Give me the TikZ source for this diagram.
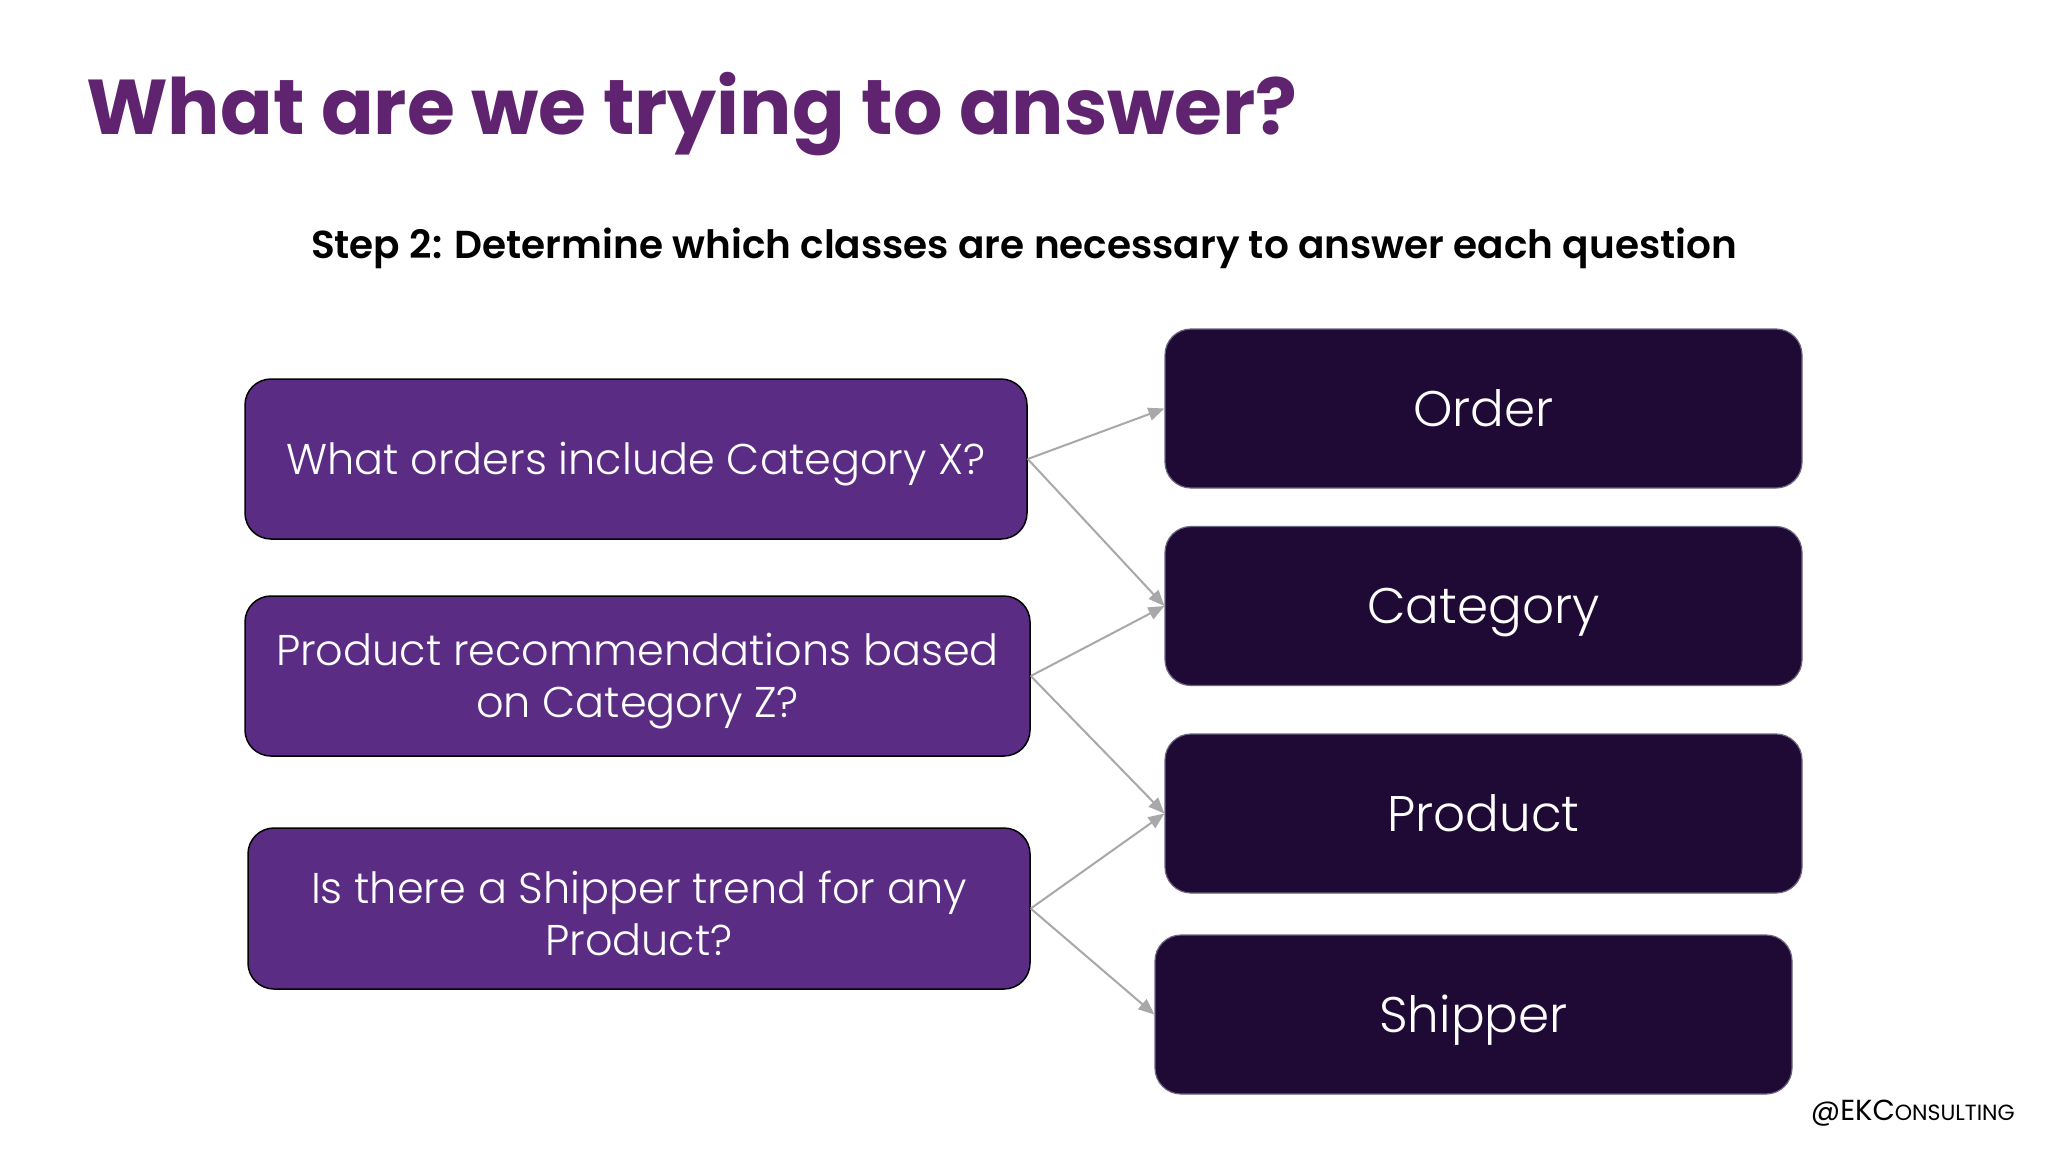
\documentclass[tikz,border=0pt]{standalone}
\usepackage{fontspec}
\setmainfont{Poppins}
\newfontfamily\lightfont{Poppins Light}
\newfontfamily\semifont{Poppins SemiBold}
\usetikzlibrary{arrows.meta}
\definecolor{titlepurple}{HTML}{5F2370}
\definecolor{qfill}{HTML}{5A2C83}
\definecolor{cfill}{HTML}{1E0A34}
\definecolor{cborder}{HTML}{6C6480}
\definecolor{arrowgray}{HTML}{A8A8A8}
\tikzset{
  qbox/.style={draw=black, line width=1.5pt, fill=qfill, rounded corners=26pt, inner sep=0pt},
  qtext/.style={text=white, align=center, inner sep=0pt, yshift=-5pt,
    font=\lightfont\fontsize{43}{52}\selectfont},
  cbox/.style={draw=cborder, line width=1.2pt, fill=cfill, rounded corners=26pt,
    text=white, align=center, inner sep=0pt, minimum width=637pt, minimum height=159pt,
    text height=35pt, text depth=0pt, font=\lightfont\fontsize{50}{60}\selectfont},
  link/.style={draw=arrowgray, line width=2pt, -{Triangle[length=16pt,width=13pt]}}
}
\begin{document}
\begin{tikzpicture}[x=1pt,y=-1pt]
\useasboundingbox[fill=white] (0,0) rectangle (2048,1152);
\node[anchor=base west, text=titlepurple, font=\fontsize{77.7}{82}\selectfont\bfseries, inner sep=0pt] (title) at (86,134) {What are we trying to answer?};
\node[font=\semifont\fontsize{39}{42}\selectfont, inner sep=0pt] (sub) at (1024,248) {Step 2: Determine which classes are necessary to answer each question};
\node[qbox, minimum width=782pt, minimum height=160pt] (q1) at (636,459) {};
\node[qbox, minimum width=785pt, minimum height=160pt] (q2) at (637.5,676) {};
\node[qbox, minimum width=782pt, minimum height=161pt] (q3) at (639,908.5) {};
\node[qtext] (q1t) at (q1.center) {What orders include Category X?};
\node[qtext] (q2t) at (q2.center) {Product recommendations based\\on Category Z?};
\node[qtext] (q3t) at (q3.center) {Is there a Shipper trend for any\\Product?};
\node[cbox] (order) at (1483.5,408.5) {Order};
\node[cbox] (cat) at (1483.5,606) {Category};
\node[cbox] (prod) at (1483.5,813.5) {Product};
\node[cbox] (ship) at (1473.5,1014.5) {Shipper};
\draw[link] (q1.east) -- (order.west);
\draw[link] (q1.east) -- (cat.west);
\draw[link] (q2.east) -- (cat.west);
\draw[link] (q2.east) -- (prod.west);
\draw[link] (q3.east) -- (prod.west);
\draw[link] (q3.east) -- (ship.west);
\node[anchor=base east, inner sep=0pt, font=\fontsize{29}{32}\selectfont] (foot) at (2015,1120) {@EKC{\fontsize{22}{26}\selectfont ONSULTING}};
\end{tikzpicture}
\end{document}
